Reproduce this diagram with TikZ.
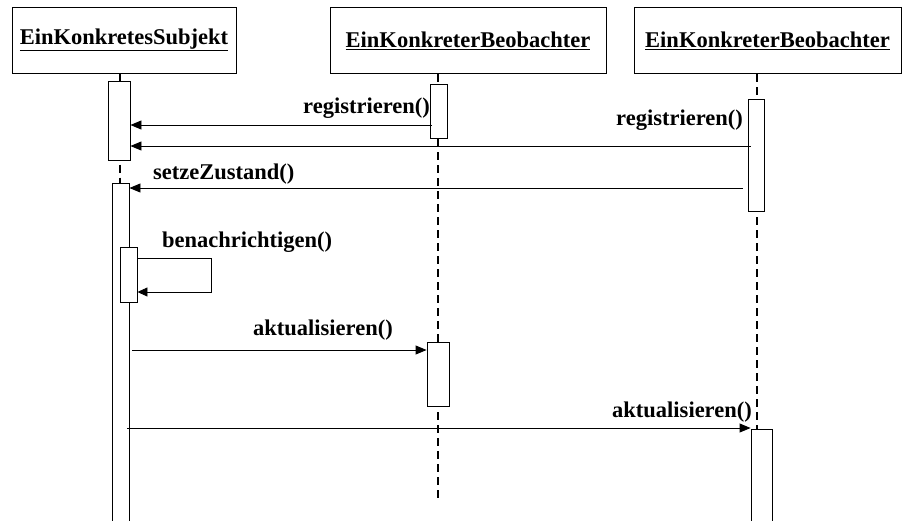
\documentclass[tikz,border=0pt]{standalone}
\usepackage{fontspec}
\setmainfont{Liberation Serif}
\usetikzlibrary{arrows.meta}
\tikzset{
  hdr/.style={draw, line width=1pt, fill=white, minimum height=66pt, inner sep=0pt,
    font=\fontsize{22.5}{25}\selectfont\bfseries},
  act/.style={draw, line width=0.9pt, fill=white, anchor=north, inner sep=0pt},
  life/.style={line width=2.2pt, dash pattern=on 8pt off 5pt},
  msg/.style={line width=0.9pt, -{Triangle[length=11pt,width=9pt]}},
  selfmsg/.style={line width=0.9pt, -{Triangle[length=10pt,width=9pt]}},
  lbl/.style={font=\fontsize{22.5}{25}\selectfont\bfseries, inner sep=0pt},
}
\begin{document}
\begin{tikzpicture}[x=1pt,y=-1pt]
\useasboundingbox (0,0) rectangle (902,520);
% headers
\node[hdr, minimum width=224pt] (hA) at (124,40) {\underline{EinKonkretesSubjekt}};
\node[hdr, minimum width=276pt] (hB) at (468,40.5) {\underline{EinKonkreterBeobachter}};
\node[hdr, minimum width=267pt] (hC) at (767.5,40.5) {\underline{EinKonkreterBeobachter}};
% lifelines
\coordinate (endA) at (120,520);
\coordinate (endB) at (438,498);
\coordinate (endC) at (757,520);
\draw[life] (hA.south -| endA) -- (endA);
\draw[life] (hB.south -| endB) -- (endB);
\draw[life] (hC.south -| endC) -- (endC);
% activations
\node[act, minimum width=22pt, minimum height=79pt] (a1) at (119,81) {};
\node[act, minimum width=17pt, minimum height=345pt] (a2) at (120.5,183) {};
\node[act, minimum width=17pt, minimum height=55pt] (a3) at (128.5,247) {};
\node[act, minimum width=17pt, minimum height=54pt] (b1) at (438.5,84) {};
\node[act, minimum width=22pt, minimum height=64pt] (b2) at (438,342) {};
\node[act, minimum width=16pt, minimum height=112pt] (c1) at (756,99) {};
\node[act, minimum width=21pt, minimum height=100pt] (c2) at (761.5,429) {};
% messages
\draw[msg] ([xshift=2pt]b1.west |- 0,125) -- (a1.east |- 0,125);
\node[lbl, anchor=base east] (l1) at (430,113) {registrieren()};
\draw[msg] ([xshift=3pt]c1.west |- 0,146) -- (a1.east |- 0,146);
\node[lbl, anchor=base east] (l2) at (743,125) {registrieren()};
\draw[msg] ([xshift=-5pt]c1.west |- 0,188) -- (a2.east |- 0,188);
\node[lbl, anchor=base west] (l3) at (153,179) {setzeZustand()};
\coordinate (s1) at (211,258);
\coordinate (s2) at (211,292);
\draw[selfmsg] (a3.east |- s1) -- (s1) -- (s2) -- (a3.east |- s2);
\node[lbl, anchor=base west] (l4) at (162,247) {benachrichtigen()};
\draw[msg] ([xshift=3pt]a2.east |- 0,350) -- (b2.west |- 0,350);
\node[lbl, anchor=base west] (l5) at (253,335) {aktualisieren()};
\draw[msg] ([xshift=-2pt]a2.east |- 0,428) -- (c2.west |- 0,428);
\node[lbl, anchor=base east] (l6) at (752,417) {aktualisieren()};
\end{tikzpicture}
\end{document}
